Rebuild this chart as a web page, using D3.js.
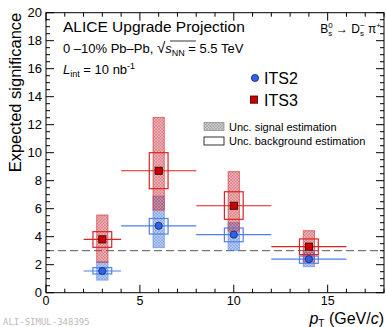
<!DOCTYPE html>
<html>
<head>
<meta charset="utf-8">
<script src="https://cdn.jsdelivr.net/npm/d3@7"></script>
<style>
  body { margin: 0; background: #fff; }
  svg { font-family: "Liberation Sans", Arial, Helvetica, sans-serif; }
</style>
</head>
<body>
<svg id="chart" width="386" height="327"></svg>
<script>
// pT bins
const ptCenter = [3, 6, 10, 14];
const ptLow = [2, 4, 8, 12];
const ptHigh = [4, 8, 12, 16];

// ITS2 significance and uncertainty bands
const its2Value = [1.55, 4.78, 4.15, 2.4];
const its2BkgLow = [1.34, 4.19, 3.64, 2.1];
const its2BkgHigh = [1.79, 5.3, 4.62, 2.62];
const its2SigLow = [0.9, 3.22, 3.02, 1.86];
const its2SigHigh = [2.2, 6.9, 5.0, 2.9];

// ITS3 significance and uncertainty bands
const its3Value = [3.81, 8.71, 6.21, 3.29];
const its3BkgLow = [3.24, 7.43, 5.24, 2.72];
const its3BkgHigh = [4.36, 10.0, 7.21, 3.84];
const its3SigLow = [2.17, 5.9, 4.4, 2.2];
const its3SigHigh = [5.55, 12.52, 8.65, 4.43];

const xTicks = [0, 5, 10, 15];
const yTicks = [0, 2, 4, 6, 8, 10, 12, 14, 16, 18, 20];
const threshold = 3;

const svg = d3.select("#chart");
const x = d3.scaleLinear().domain([0, 18]).range([46, 384]);
const y = d3.scaleLinear().domain([0, 20]).range([292.7, 12.7]);

// hatch patterns for the signal uncertainty boxes
const defs = svg.append("defs");
function hatch(id, fill, line) {
    const p = defs.append("pattern")
        .attr("id", id)
        .attr("patternUnits", "userSpaceOnUse")
        .attr("width", 3).attr("height", 3);
    p.append("rect").attr("width", 3).attr("height", 3).attr("fill", fill);
    p.append("path").attr("d", "M0,3 L3,0 M0,0 L3,3")
        .attr("stroke", line).attr("stroke-width", 0.5);
}
hatch("hatchRed", "rgba(215,60,70,0.42)", "rgba(160,40,50,0.4)");
hatch("hatchBlue", "rgba(70,130,230,0.4)", "rgba(40,80,170,0.4)");
hatch("hatchGrey", "rgba(150,150,150,0.5)", "rgba(90,90,90,0.45)");

const sigHalf = 0.3, bkgHalf = 0.5;

// shaded boxes: uncertainty on the signal estimate
function drawSignal(sLo, sHi, pattern, boxStroke) {
    svg.append("g").selectAll("rect").data(d3.range(sLo.length)).join("rect")
        .attr("x", i => x(ptCenter[i] - sigHalf))
        .attr("width", i => x(ptCenter[i] + sigHalf) - x(ptCenter[i] - sigHalf))
        .attr("y", i => y(sHi[i]))
        .attr("height", i => y(sLo[i]) - y(sHi[i]))
        .attr("fill", `url(#${pattern})`)
        .attr("stroke", boxStroke).attr("stroke-width", 1);
}

// x error bar, open background box and marker
function drawTop(vals, bLo, bHi, color, marker, markerFill, markerStroke) {
    const g = svg.append("g");
    const idx = d3.range(vals.length);
    g.selectAll(".err").data(idx).join("line")
        .attr("x1", i => x(ptLow[i])).attr("x2", i => x(ptHigh[i]))
        .attr("y1", i => y(vals[i])).attr("y2", i => y(vals[i]))
        .attr("stroke", color).attr("stroke-width", 1.2);
    g.selectAll(".bkg").data(idx).join("rect")
        .attr("x", i => x(ptCenter[i] - bkgHalf))
        .attr("width", i => x(ptCenter[i] + bkgHalf) - x(ptCenter[i] - bkgHalf))
        .attr("y", i => y(bHi[i]))
        .attr("height", i => y(bLo[i]) - y(bHi[i]))
        .attr("fill", "none")
        .attr("stroke", color).attr("stroke-width", 1.2);
    if (marker === "circle") {
        g.selectAll(".m").data(idx).join("circle")
            .attr("cx", i => x(ptCenter[i])).attr("cy", i => y(vals[i]))
            .attr("r", 3.6)
            .attr("fill", markerFill).attr("stroke", markerStroke).attr("stroke-width", 0.8);
    } else {
        g.selectAll(".m").data(idx).join("rect")
            .attr("x", i => x(ptCenter[i]) - 3.6).attr("y", i => y(vals[i]) - 3.6)
            .attr("width", 7.2).attr("height", 7.2)
            .attr("fill", markerFill).attr("stroke", markerStroke).attr("stroke-width", 0.8);
    }
}

// dashed 3 sigma line
svg.append("line")
    .attr("x1", x(0)).attr("x2", x(18))
    .attr("y1", y(threshold)).attr("y2", y(threshold))
    .attr("stroke", "#555").attr("stroke-width", 1)
    .attr("stroke-dasharray", "8,4");

drawSignal(its2SigLow, its2SigHigh, "hatchBlue", "rgba(80,130,235,0.6)");
drawSignal(its3SigLow, its3SigHigh, "hatchRed", "rgba(215,50,60,0.65)");
drawTop(its2Value, its2BkgLow, its2BkgHigh, "#4d7ff0", "circle", "#2f62e8", "#12245a");
drawTop(its3Value, its3BkgLow, its3BkgHigh, "#e02020", "square", "#cc0000", "#3a0000");

// frame
svg.append("rect")
    .attr("x", x(0)).attr("y", y(20))
    .attr("width", x(18) - x(0)).attr("height", y(0) - y(20))
    .attr("fill", "none").attr("stroke", "#000").attr("stroke-width", 1);

// ticks (inward, on all four sides)
const axisG = svg.append("g").attr("stroke", "#000").attr("stroke-width", 1);
const yMinor = d3.range(0, 20.01, 0.5);
const xMinor = d3.range(0, 18.01, 1);
yMinor.forEach(v => {
    const len = (Math.abs(v % 2) < 1e-6) ? 8 : 4;
    axisG.append("line").attr("x1", x(0)).attr("x2", x(0) + len).attr("y1", y(v)).attr("y2", y(v));
    axisG.append("line").attr("x1", x(18)).attr("x2", x(18) - len).attr("y1", y(v)).attr("y2", y(v));
});
xMinor.forEach(v => {
    const len = (Math.abs(v % 5) < 1e-6) ? 8 : 4;
    axisG.append("line").attr("x1", x(v)).attr("x2", x(v)).attr("y1", y(0)).attr("y2", y(0) - len);
    axisG.append("line").attr("x1", x(v)).attr("x2", x(v)).attr("y1", y(20)).attr("y2", y(20) + len);
});

// tick labels
svg.append("g").selectAll("text").data(yTicks).join("text")
    .attr("x", x(0) - 4).attr("y", d => y(d) + 4.5)
    .attr("text-anchor", "end").attr("font-size", 13)
    .text(d => d);
svg.append("g").selectAll("text").data(xTicks).join("text")
    .attr("x", d => x(d)).attr("y", y(0) + 12.5)
    .attr("text-anchor", "middle").attr("font-size", 12.5)
    .text(d => d);

// axis titles
svg.append("text")
    .attr("transform", `translate(21, ${y(20)}) rotate(-90)`)
    .attr("text-anchor", "end").attr("font-size", 16.5)
    .text("Expected significance");
const xt = svg.append("text")
    .attr("x", 384).attr("y", 323.5)
    .attr("text-anchor", "end").attr("font-size", 16);
xt.append("tspan").attr("font-style", "italic").text("p");
xt.append("tspan").attr("font-size", 10).attr("dy", 3).text("T");
xt.append("tspan").attr("dy", -3).text(" (GeV/");
xt.append("tspan").attr("font-style", "italic").text("c");
xt.append("tspan").text(")");

// header text
svg.append("text").attr("x", 63).attr("y", 32).attr("font-size", 15.5)
    .text("ALICE Upgrade Projection");
const l2 = svg.append("text").attr("x", 63).attr("y", 53).attr("font-size", 13);
l2.append("tspan").text("0 \u201310% Pb\u2013Pb, ");
l2.append("tspan").attr("font-size", 15).text("\u221A");
l2.append("tspan").attr("font-style", "italic").text("s");
l2.append("tspan").attr("font-size", 9).attr("dy", 3).text("NN");
l2.append("tspan").attr("dy", -3).text(" = 5.5 TeV");
// overline of the square root
svg.append("line").attr("x1", 170).attr("x2", 196).attr("y1", 41).attr("y2", 41)
    .attr("stroke", "#000").attr("stroke-width", 0.8);

const l3 = svg.append("text").attr("x", 63).attr("y", 74).attr("font-size", 13);
l3.append("tspan").attr("font-style", "italic").text("L");
l3.append("tspan").attr("font-size", 9).attr("dy", 3).text("int");
l3.append("tspan").attr("dy", -3).text(" = 10 nb");
l3.append("tspan").attr("font-size", 9).attr("dy", -5).text("-1");

const dec = svg.append("text").attr("x", 381).attr("y", 33).attr("text-anchor", "end").attr("font-size", 12);
dec.append("tspan").text("B");
dec.append("tspan").attr("font-size", 8).attr("dy", 3).text("s");
dec.append("tspan").attr("font-size", 8).attr("dx", -4).attr("dy", -8).text("0");
dec.append("tspan").attr("dy", 5).text(" \u2192 D");
dec.append("tspan").attr("font-size", 8).attr("dy", 3).text("s");
dec.append("tspan").attr("font-size", 8).attr("dx", -4).attr("dy", -8).text("\u2212");
dec.append("tspan").attr("dy", 5).text(" \u03C0");
dec.append("tspan").attr("font-size", 8).attr("dy", -5).text("+");

// legend: detectors
svg.append("circle").attr("cx", 255).attr("cy", 78).attr("r", 3.6)
    .attr("fill", "#2f62e8").attr("stroke", "#12245a").attr("stroke-width", 0.8);
svg.append("text").attr("x", 264).attr("y", 84).attr("font-size", 16).text("ITS2");
svg.append("rect").attr("x", 250.4).attr("y", 96).attr("width", 7.2).attr("height", 7.2)
    .attr("fill", "#cc0000").attr("stroke", "#3a0000").attr("stroke-width", 0.8);
svg.append("text").attr("x", 264).attr("y", 106).attr("font-size", 16).text("ITS3");

// legend: uncertainties
svg.append("rect").attr("x", 204).attr("y", 122.5).attr("width", 20).attr("height", 8)
    .attr("fill", "url(#hatchGrey)").attr("stroke", "#888").attr("stroke-width", 0.7);
svg.append("text").attr("x", 229).attr("y", 130.5).attr("font-size", 11).text("Unc. signal estimation");
svg.append("rect").attr("x", 204).attr("y", 137).attr("width", 20).attr("height", 8)
    .attr("fill", "none").attr("stroke", "#000").attr("stroke-width", 0.8);
svg.append("text").attr("x", 229).attr("y", 145).attr("font-size", 11).text("Unc. background estimation");

// figure id
svg.append("text").attr("x", 3).attr("y", 325).attr("font-size", 9)
    .attr("font-family", "DejaVu Sans Mono, monospace").attr("fill", "#bbb")
    .text("ALI-SIMUL-348395");
</script>
</body>
</html>
